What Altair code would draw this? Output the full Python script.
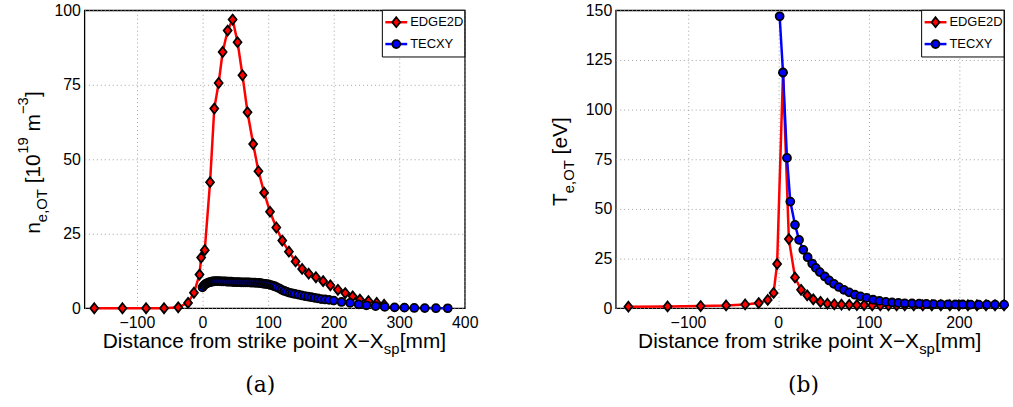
import altair as alt
import pandas as pd

# ---------------- data ----------------
# (a) electron density n_e,OT [1e19 m^-3]
ne_edge_x = [-165, -122, -86, -58.6, -37, -22, -13, -4.5, -2, 3.5, 11.6, 18, 24.7, 30.8, 38.4, 46,
             53.5, 61, 68.7, 77.3, 85.4, 94, 103, 112.6, 121.7, 131.8, 142, 152, 162, 173, 184, 195,
             206.5, 217.7, 229, 240, 253, 265.6, 277]
ne_edge_y = [0, 0, 0, 0, 0.3, 1.8, 5.2, 11.3, 17, 19.5, 42.3, 67, 75.6, 86, 93.2, 96.9,
             89.3, 78.2, 65.8, 55.1, 46, 38.8, 32.4, 27.1, 22.7, 19, 15.7, 13.2, 11.6, 10.4, 9.1, 7.7,
             6.2, 5.1, 4, 2.9, 2.4, 1.8, 1.2]
ne_tec_x = [0, 2, 4, 6, 8, 10, 12, 14, 16, 18, 20,
            23, 26, 29, 32, 35, 38, 41, 44, 47, 50, 53, 56, 59, 62, 65, 68, 71, 74, 77, 80, 83, 86,
            89, 92, 95, 98, 101, 104, 107, 110, 113,
            117, 121, 125, 129, 133, 137, 141,
            146, 151, 156, 161, 166, 171, 176, 181,
            187, 193, 200,
            212, 225, 238, 250, 264, 278, 293, 308, 323, 339, 356, 374]
ne_tec_y = [7.0, 7.6, 8.0, 8.3, 8.5, 8.7, 8.8, 8.9, 9.0, 9.0, 9.1,
            9.1, 9.1, 9.0, 9.0, 9.0, 8.9, 8.9, 8.9, 8.8, 8.8, 8.8, 8.8, 8.7, 8.7, 8.7, 8.7, 8.7, 8.6,
            8.6, 8.6, 8.5, 8.5, 8.4, 8.3, 8.2, 8.1, 8.0, 7.8, 7.6, 7.4, 7.1,
            6.7, 6.2, 5.8, 5.5, 5.2, 5.0, 4.8,
            4.6, 4.3, 4.1, 3.9, 3.7, 3.5, 3.3, 3.1,
            2.95, 2.8, 2.6,
            2.1, 1.8, 1.3, 1.0, 0.7, 0.45, 0.3, 0.2, 0.1, 0.05, 0.02, 0]

# (b) electron temperature T_e,OT [eV]
te_edge_x = [-166, -122.6, -86, -57.8, -36.7, -21.7, -11.7, -5.2, -1.3, 5.2, 11.7, 18.5, 25.2, 32,
             38.7, 46.7, 54.4, 62, 70, 78.5, 87, 95, 104, 113, 122, 131, 140, 150, 160, 170, 180,
             190, 200, 210, 220, 230, 240, 250]
te_edge_y = [0.8, 0.9, 1.1, 1.4, 1.9, 2.6, 4.2, 7.7, 22.3, 118.5, 34.8, 15.5, 9.3, 6.5,
             4.5, 3.2, 2.3, 2.0, 1.8, 1.7, 1.6, 1.6, 1.5, 1.5, 1.5, 1.5, 1.5, 1.5, 1.5, 1.5, 1.5,
             1.5, 1.5, 1.5, 1.5, 1.5, 1.5, 1.5]
te_tec_x = [1.5, 5.2, 9.6, 13.3, 18.5, 23, 27.7, 32.5, 37.5, 41.5, 45.9, 51.5, 56.3, 61.5, 67,
            72.6, 78.5, 84.8, 91, 97.8, 105, 112, 119, 126, 133, 140, 148, 156, 164, 172, 180,
            188, 196, 204, 213, 222, 231, 240, 250]
te_tec_y = [147, 118.7, 75.7, 53.7, 42, 34.4, 29.4, 25.7, 22.5, 20.3, 18.2, 16, 14, 12.3, 10.7,
            9.3, 8, 6.8, 6, 5.2, 4.3, 3.7, 3.2, 2.9, 2.7, 2.5, 2.4, 2.3, 2.2, 2.1, 2.0,
            2.0, 1.9, 1.9, 1.8, 1.8, 1.8, 1.8, 1.8]

series_names = ["EDGE2D", "TECXY"]
ne_xticks = [-100, 0, 100, 200, 300, 400]
ne_yticks = [0, 25, 50, 75, 100]
te_xticks = [-100, 0, 100, 200]
te_yticks = [0, 25, 50, 75, 100, 125, 150]
ne_xdom, ne_ydom = [-180, 400], [0, 100]
te_xdom, te_ydom = [-180, 250], [0, 150]

# ---------------- styling ----------------
FONT = "Liberation Sans"
SERIF = "DejaVu Serif"
RED, BLUE = "#ff0000", "#0000ff"
DIAMOND = "M0,-1L0.8,0L0,1L-0.8,0Z"
MSIZE = 100
CSIZE = 64
TITLE_FS, SUB_FS = 21, 15


def one():
    return pd.DataFrame({"k": [0]})


def txt(text, x, y, size, dx=0, dy=0, angle=0, font=FONT, align="left"):
    kw = dict(text=text, fontSize=size, font=font, align=align,
              baseline="alphabetic", color="black")
    if dx:
        kw["dx"] = dx
    if dy:
        kw["dy"] = dy
    if angle:
        kw["angle"] = angle
    return alt.Chart(one()).mark_text(**kw).encode(x=alt.value(x), y=alt.value(y))


def series_layers(xs, ys, color, shape, size, xdom, ydom, xticks, yticks):
    df = pd.DataFrame({"x": xs, "y": ys})
    xenc = alt.X("x:Q", scale=alt.Scale(domain=xdom, nice=False, zero=False),
                 axis=alt.Axis(values=xticks, title=None, labelFlush=False, labelPadding=6))
    yenc = alt.Y("y:Q", scale=alt.Scale(domain=ydom, nice=False, zero=False),
                 axis=alt.Axis(values=yticks, title=None, labelPadding=4))
    line = alt.Chart(df).mark_line(color=color, strokeWidth=2.5).encode(x=xenc, y=yenc)
    pts = alt.Chart(df).mark_point(shape=shape, filled=True, fill=color, stroke="black",
                                   strokeWidth=1.8, size=size, opacity=1).encode(x=xenc, y=yenc)
    return [line, pts]


def legend_layers(x0, x1):
    layers = [alt.Chart(one()).mark_rect(fill="white", stroke="black", strokeWidth=1).encode(
        x=alt.value(x0), x2=alt.value(x1), y=alt.value(0), y2=alt.value(47))]
    rows = [(12, RED, DIAMOND, MSIZE, series_names[0]), (34, BLUE, "circle", CSIZE, series_names[1])]
    for ry, col, shp, sz, lab in rows:
        layers.append(alt.Chart(one()).mark_rule(color=col, strokeWidth=2.5).encode(
            x=alt.value(x0 + 3), x2=alt.value(x0 + 25), y=alt.value(ry)))
        layers.append(alt.Chart(one()).mark_point(shape=shp, filled=True, fill=col, stroke="black",
                                                  strokeWidth=1.8, size=sz, opacity=1).encode(
            x=alt.value(x0 + 14), y=alt.value(ry)))
        layers.append(alt.Chart(one()).mark_text(text=lab, font=FONT, fontSize=13, align="left",
                                                 baseline="middle", color="black").encode(
            x=alt.value(x0 + 28), y=alt.value(ry)))
    return layers


def xtitle_layers(w):
    x0 = w / 2 - 173
    y0 = 340
    return [txt("Distance from strike point X\u2212X", x0, y0, TITLE_FS),
            txt("sp", x0, y0, SUB_FS, dx=283, dy=6),
            txt("[mm]", x0, y0, TITLE_FS, dx=299)]


W1, W2, H = 383, 391, 300

# ---------------- panel (a) ----------------
ylab_a = [
    txt("n", -45, 225, TITLE_FS, angle=270),
    txt("e,OT", -45, 225, SUB_FS, dx=11.7, dy=7, angle=270),
    txt("[10", -45, 225, TITLE_FS, dx=50.8, angle=270),
    txt("19", -45, 225, SUB_FS, dx=80.5, dy=-12, angle=270),
    txt("m", -45, 225, TITLE_FS, dx=103, angle=270),
    txt("\u22123", -45, 225, SUB_FS, dx=120.5, dy=-12, angle=270),
    txt("]", -45, 225, TITLE_FS, dx=137.6, angle=270),
]
anchor = alt.Chart(one()).mark_rule(strokeOpacity=0, strokeWidth=1).encode(
    x=alt.value(-84), y=alt.value(-8), y2=alt.value(0))

panel_a = alt.layer(
    *series_layers(ne_edge_x, ne_edge_y, RED, DIAMOND, MSIZE, ne_xdom, ne_ydom, ne_xticks, ne_yticks),
    *series_layers(ne_tec_x, ne_tec_y, BLUE, "circle", CSIZE, ne_xdom, ne_ydom, ne_xticks, ne_yticks),
    *legend_layers(300, W1),
    *ylab_a,
    *xtitle_layers(W1),
    txt("(a)", 177, 384, 22, font=SERIF, align="center"),
    anchor,
).properties(width=W1, height=H)

# ---------------- panel (b) ----------------
ylab_b = [
    txt("T", -49, 197, TITLE_FS, angle=270),
    txt("e,OT", -49, 197, SUB_FS, dx=12.8, dy=7, angle=270),
    txt("[eV]", -49, 197, TITLE_FS, dx=51.9, angle=270),
]
panel_b = alt.layer(
    *series_layers(te_edge_x, te_edge_y, RED, DIAMOND, MSIZE, te_xdom, te_ydom, te_xticks, te_yticks),
    *series_layers(te_tec_x, te_tec_y, BLUE, "circle", CSIZE, te_xdom, te_ydom, te_xticks, te_yticks),
    *legend_layers(308, W2),
    *ylab_b,
    *xtitle_layers(W2),
    txt("(b)", 189, 384, 22, font=SERIF, align="center"),
).properties(width=W2, height=H)

chart = alt.hconcat(panel_a, panel_b, spacing=152, bounds="flush", padding=0).configure_axis(
    labelFont=FONT, labelFontSize=16, labelColor="black", ticks=False, tickSize=0,
    domain=False, grid=True, gridColor="#a0a0a0", gridDash=[1, 3], gridWidth=1,
).configure_view(stroke="black", strokeWidth=1.3)

chart.save("out.html", embed_options={"renderer": "svg", "actions": False})
